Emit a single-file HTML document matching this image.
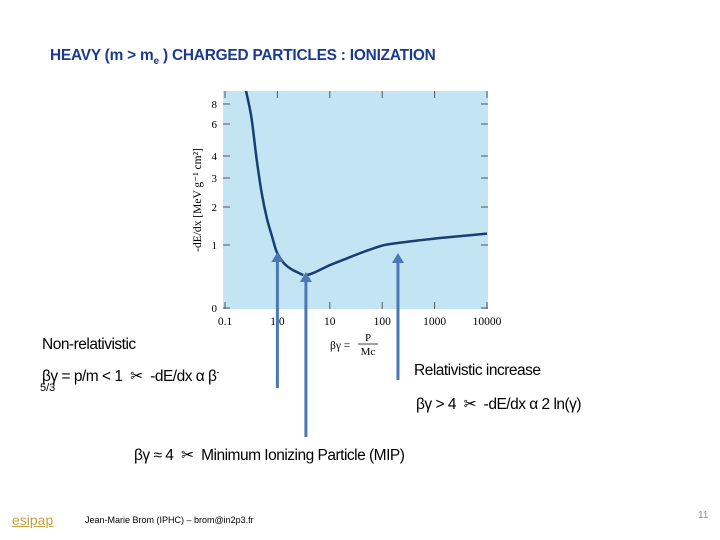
<!DOCTYPE html>
<html><head><meta charset="utf-8"><style>
body{margin:0;width:720px;height:540px;background:#fff;overflow:hidden;position:relative;font-family:"Liberation Sans",sans-serif}
.t{position:absolute;white-space:nowrap}
</style></head><body>
<div class="t" style="left:50px;top:47px;font-size:15.4px;font-weight:bold;color:#1b3a8f;letter-spacing:-0.2px">HEAVY (m &gt; m<sub style="font-size:10px">e</sub> ) CHARGED PARTICLES : IONIZATION</div>
<svg id="chart" width="720" height="540" style="position:absolute;left:0;top:0"></svg>
<div class="t" style="left:42px;top:336px;font-size:15.5px;letter-spacing:-0.5px">Non-relativistic</div>
<div class="t" style="left:42px;top:367px;font-size:15.5px;letter-spacing:-0.5px">βγ = p/m &lt; 1 &nbsp;✂ &nbsp;-dE/dx α β<sup style="font-size:9px">-</sup></div>
<div class="t" style="left:40px;top:382px;font-size:11px">5/3</div>
<div class="t" style="left:414px;top:362px;font-size:15.5px;letter-spacing:-0.5px">Relativistic increase</div>
<div class="t" style="left:416px;top:395px;font-size:15.5px;letter-spacing:-0.5px">βγ &gt; 4 &nbsp;✂ &nbsp;-dE/dx α 2 ln(γ)</div>
<div class="t" style="left:134px;top:446px;font-size:15.5px;letter-spacing:-0.5px">βγ ≈ 4 &nbsp;✂ &nbsp;Minimum Ionizing Particle (MIP)</div>
<div class="t" style="left:12px;top:512px;font-size:14px;color:#c8a040;text-decoration:underline">esipap</div>
<div class="t" style="left:85px;top:515px;font-size:9px">Jean-Marie Brom (IPHC) – brom@in2p3.fr</div>
<div class="t" style="left:698px;top:510px;font-size:10px;color:#888">11</div>
<script>
const xValues=[0.215,0.26,0.32,0.40,0.50,0.63,0.8,0.97,1.3,1.74,2.5,3.4,5,10,20,44,100,190,500,1700,10000];
const yValues=[11,9,6.6,3.9,2.5,1.7,1.2,0.89,0.72,0.63,0.56,0.52,0.56,0.68,0.78,0.89,0.99,1.05,1.12,1.2,1.3];
const yTicks=[0,1,2,3,4,6,8];
const yTickPix=[308,245,207,178,156,124,104];
const xTicks=[0.1,1,10,100,1000,10000];
const xTickLabels=["0.1","1.0","10","100","1000","10000"];
const arrowsX=[1.0,3.5,200];
const NS="http://www.w3.org/2000/svg";
const svg=document.getElementById('chart');
const X=v=>225+(Math.log10(v)+1)*52.4;
function Y(v){for(let i=0;i<yTicks.length-1;i++){if(v<=yTicks[i+1]){const f=(v-yTicks[i])/(yTicks[i+1]-yTicks[i]);return yTickPix[i]+f*(yTickPix[i+1]-yTickPix[i]);}}const n=yTicks.length;return yTickPix[n-1]+(v-yTicks[n-1])*(yTickPix[n-1]-yTickPix[n-2])/(yTicks[n-1]-yTicks[n-2]);}
function el(t,a){const e=document.createElementNS(NS,t);for(const k in a)e.setAttribute(k,a[k]);svg.appendChild(e);return e;}
const bg=el('rect',{x:223,y:91,width:265,height:218,fill:'#c3e4f3'});


yTicks.forEach((v,i)=>{const y=Y(v);
el('line',{x1:223,x2:230,y1:y,y2:y,stroke:'#555','stroke-width':1});
el('line',{x1:481,x2:488,y1:y,y2:y,stroke:'#555','stroke-width':1});
const t=el('text',{x:217,y:y+4,'font-size':11,'text-anchor':'end','font-family':'Liberation Serif'});t.textContent=v;

});
xTicks.forEach((v,i)=>{const x=X(v);
el('line',{x1:x,x2:x,y1:302,y2:309,stroke:'#555','stroke-width':1});
el('line',{x1:x,x2:x,y1:91,y2:98,stroke:'#555','stroke-width':1});
const t=el('text',{x:x,y:325,'font-size':11.5,'text-anchor':'middle','font-family':'Liberation Serif'});t.textContent=xTickLabels[i];

});
const yt=el('text',{x:0,y:0,'font-size':11.5,'text-anchor':'middle','font-family':'Liberation Serif',transform:'translate(201,200) rotate(-90)'});yt.textContent='-dE/dx [MeV g⁻¹ cm²]';


const xt=el('text',{x:330,y:349,'font-size':11.5,'font-family':'Liberation Serif'});xt.textContent='βγ =';


const xt2=el('text',{x:368,y:341,'font-size':11,'text-anchor':'middle','font-family':'Liberation Serif'});xt2.textContent='P';
el('line',{x1:358,x2:378,y1:344,y2:344,stroke:'#000','stroke-width':0.8});
const xt3=el('text',{x:368,y:355,'font-size':11,'text-anchor':'middle','font-family':'Liberation Serif'});xt3.textContent='Mc';
const pts=xValues.map((v,i)=>[X(v),Y(yValues[i])]);
let d='M'+pts[0][0].toFixed(1)+' '+pts[0][1].toFixed(1);
for(let i=0;i<pts.length-1;i++){const p0=pts[Math.max(0,i-1)],p1=pts[i],p2=pts[i+1],p3=pts[Math.min(pts.length-1,i+2)];
const c1=[p1[0]+(p2[0]-p0[0])/6,p1[1]+(p2[1]-p0[1])/6],c2=[p2[0]-(p3[0]-p1[0])/6,p2[1]-(p3[1]-p1[1])/6];
d+=` C${c1[0].toFixed(1)} ${c1[1].toFixed(1)} ${c2[0].toFixed(1)} ${c2[1].toFixed(1)} ${p2[0].toFixed(1)} ${p2[1].toFixed(1)}`;}
const cp=el('clipPath',{id:'clip'});const cr=document.createElementNS(NS,'rect');cr.setAttribute('x',223);cr.setAttribute('y',91);cr.setAttribute('width',265);cr.setAttribute('height',218);cp.appendChild(cr);
const p=el('path',{d:d,fill:'none',stroke:'#1a3d72','stroke-width':2.5,'stroke-linejoin':'round','clip-path':'url(#clip)'});


el('circle',{cx:X(3.4),cy:Y(0.52),r:2,fill:'#e8e060'});
const tops=[252,272,253],bots=[388,437,380];
arrowsX.forEach((v,i)=>{const x=X(v);
const a=el('line',{x1:x,x2:x,y1:bots[i],y2:tops[i]+8,stroke:'#4a78b4','stroke-width':3});


el('polygon',{points:`${x-6},${tops[i]+10} ${x+6},${tops[i]+10} ${x},${tops[i]}`,fill:'#4a78b4'});});
</script>
</body></html>
